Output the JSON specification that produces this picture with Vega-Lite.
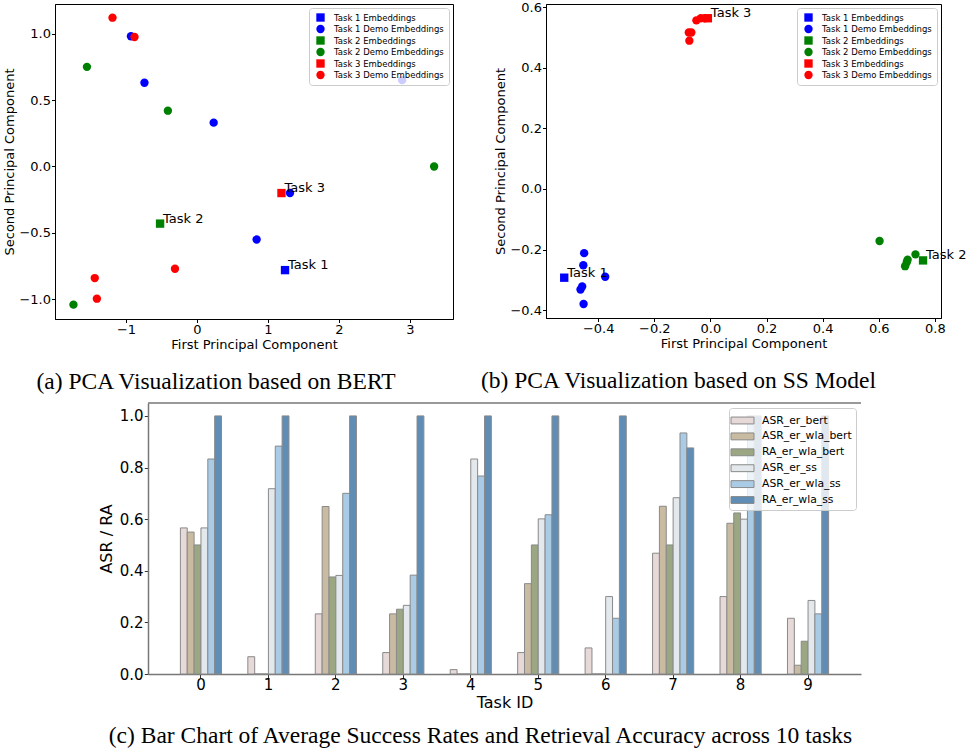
{
  "$schema": "https://vega.github.io/schema/vega-lite/v6.json",
  "padding": {"left": 3, "top": 0, "right": 0, "bottom": 0},
  "spacing": 8,
  "resolve": {"scale": {"color": "independent", "shape": "independent", "x": "independent", "y": "independent"}, "legend": {"color": "independent", "shape": "independent"}},
  "datasets": {
    "pca_bert": [
      {"x": 1.24, "y": -0.78, "series": "Task 1 Embeddings", "label": "Task 1"},
      {"x": -0.93, "y": 0.98, "series": "Task 1 Demo Embeddings"},
      {"x": -0.74, "y": 0.63, "series": "Task 1 Demo Embeddings"},
      {"x": 0.235, "y": 0.33, "series": "Task 1 Demo Embeddings"},
      {"x": 2.89, "y": 0.65, "series": "Task 1 Demo Embeddings"},
      {"x": 1.31, "y": -0.2, "series": "Task 1 Demo Embeddings"},
      {"x": 0.84, "y": -0.55, "series": "Task 1 Demo Embeddings"},
      {"x": -0.52, "y": -0.43, "series": "Task 2 Embeddings", "label": "Task 2"},
      {"x": -1.55, "y": 0.75, "series": "Task 2 Demo Embeddings"},
      {"x": -0.41, "y": 0.42, "series": "Task 2 Demo Embeddings"},
      {"x": 3.34, "y": 0.0, "series": "Task 2 Demo Embeddings"},
      {"x": -1.74, "y": -1.04, "series": "Task 2 Demo Embeddings"},
      {"x": 1.19, "y": -0.2, "series": "Task 3 Embeddings", "label": "Task 3"},
      {"x": -1.19, "y": 1.12, "series": "Task 3 Demo Embeddings"},
      {"x": -0.88, "y": 0.975, "series": "Task 3 Demo Embeddings"},
      {"x": -0.31, "y": -0.77, "series": "Task 3 Demo Embeddings"},
      {"x": -1.44, "y": -0.84, "series": "Task 3 Demo Embeddings"},
      {"x": -1.41, "y": -0.995, "series": "Task 3 Demo Embeddings"}
    ],
    "pca_ss": [
      {"x": -0.521, "y": -0.293, "series": "Task 1 Embeddings", "label": "Task 1"},
      {"x": -0.45, "y": -0.212, "series": "Task 1 Demo Embeddings"},
      {"x": -0.453, "y": -0.252, "series": "Task 1 Demo Embeddings"},
      {"x": -0.375, "y": -0.29, "series": "Task 1 Demo Embeddings"},
      {"x": -0.457, "y": -0.322, "series": "Task 1 Demo Embeddings"},
      {"x": -0.463, "y": -0.332, "series": "Task 1 Demo Embeddings"},
      {"x": -0.452, "y": -0.38, "series": "Task 1 Demo Embeddings"},
      {"x": 0.758, "y": -0.236, "series": "Task 2 Embeddings", "label": "Task 2"},
      {"x": 0.603, "y": -0.172, "series": "Task 2 Demo Embeddings"},
      {"x": 0.731, "y": -0.216, "series": "Task 2 Demo Embeddings"},
      {"x": 0.703, "y": -0.234, "series": "Task 2 Demo Embeddings"},
      {"x": 0.7, "y": -0.242, "series": "Task 2 Demo Embeddings"},
      {"x": 0.694, "y": -0.255, "series": "Task 2 Demo Embeddings"},
      {"x": -0.009, "y": 0.563, "series": "Task 3 Embeddings", "label": "Task 3"},
      {"x": -0.05, "y": 0.556, "series": "Task 3 Demo Embeddings"},
      {"x": -0.034, "y": 0.563, "series": "Task 3 Demo Embeddings"},
      {"x": -0.02, "y": 0.563, "series": "Task 3 Demo Embeddings"},
      {"x": -0.077, "y": 0.516, "series": "Task 3 Demo Embeddings"},
      {"x": -0.068, "y": 0.516, "series": "Task 3 Demo Embeddings"},
      {"x": -0.075, "y": 0.489, "series": "Task 3 Demo Embeddings"}
    ],
    "bars": [
      {"task": 0, "metric": "ASR_er_bert", "value": 0.566},
      {"task": 0, "metric": "ASR_er_wla_bert", "value": 0.55},
      {"task": 0, "metric": "RA_er_wla_bert", "value": 0.5},
      {"task": 0, "metric": "ASR_er_ss", "value": 0.566},
      {"task": 0, "metric": "ASR_er_wla_ss", "value": 0.833},
      {"task": 0, "metric": "RA_er_wla_ss", "value": 1.0},
      {"task": 1, "metric": "ASR_er_bert", "value": 0.067},
      {"task": 1, "metric": "ASR_er_wla_bert", "value": 0},
      {"task": 1, "metric": "RA_er_wla_bert", "value": 0},
      {"task": 1, "metric": "ASR_er_ss", "value": 0.718},
      {"task": 1, "metric": "ASR_er_wla_ss", "value": 0.883},
      {"task": 1, "metric": "RA_er_wla_ss", "value": 1.0},
      {"task": 2, "metric": "ASR_er_bert", "value": 0.233},
      {"task": 2, "metric": "ASR_er_wla_bert", "value": 0.649},
      {"task": 2, "metric": "RA_er_wla_bert", "value": 0.376},
      {"task": 2, "metric": "ASR_er_ss", "value": 0.382},
      {"task": 2, "metric": "ASR_er_wla_ss", "value": 0.7},
      {"task": 2, "metric": "RA_er_wla_ss", "value": 1.0},
      {"task": 3, "metric": "ASR_er_bert", "value": 0.083},
      {"task": 3, "metric": "ASR_er_wla_bert", "value": 0.233},
      {"task": 3, "metric": "RA_er_wla_bert", "value": 0.251},
      {"task": 3, "metric": "ASR_er_ss", "value": 0.266},
      {"task": 3, "metric": "ASR_er_wla_ss", "value": 0.383},
      {"task": 3, "metric": "RA_er_wla_ss", "value": 1.0},
      {"task": 4, "metric": "ASR_er_bert", "value": 0.017},
      {"task": 4, "metric": "ASR_er_wla_bert", "value": 0},
      {"task": 4, "metric": "RA_er_wla_bert", "value": 0},
      {"task": 4, "metric": "ASR_er_ss", "value": 0.833},
      {"task": 4, "metric": "ASR_er_wla_ss", "value": 0.767},
      {"task": 4, "metric": "RA_er_wla_ss", "value": 1.0},
      {"task": 5, "metric": "ASR_er_bert", "value": 0.083},
      {"task": 5, "metric": "ASR_er_wla_bert", "value": 0.35},
      {"task": 5, "metric": "RA_er_wla_bert", "value": 0.5},
      {"task": 5, "metric": "ASR_er_ss", "value": 0.601},
      {"task": 5, "metric": "ASR_er_wla_ss", "value": 0.617},
      {"task": 5, "metric": "RA_er_wla_ss", "value": 1.0},
      {"task": 6, "metric": "ASR_er_bert", "value": 0.101},
      {"task": 6, "metric": "ASR_er_wla_bert", "value": 0},
      {"task": 6, "metric": "RA_er_wla_bert", "value": 0},
      {"task": 6, "metric": "ASR_er_ss", "value": 0.3},
      {"task": 6, "metric": "ASR_er_wla_ss", "value": 0.216},
      {"task": 6, "metric": "RA_er_wla_ss", "value": 1.0},
      {"task": 7, "metric": "ASR_er_bert", "value": 0.468},
      {"task": 7, "metric": "ASR_er_wla_bert", "value": 0.65},
      {"task": 7, "metric": "RA_er_wla_bert", "value": 0.5},
      {"task": 7, "metric": "ASR_er_ss", "value": 0.683},
      {"task": 7, "metric": "ASR_er_wla_ss", "value": 0.934},
      {"task": 7, "metric": "RA_er_wla_ss", "value": 0.876},
      {"task": 8, "metric": "ASR_er_bert", "value": 0.3},
      {"task": 8, "metric": "ASR_er_wla_bert", "value": 0.584},
      {"task": 8, "metric": "RA_er_wla_bert", "value": 0.624},
      {"task": 8, "metric": "ASR_er_ss", "value": 0.6},
      {"task": 8, "metric": "ASR_er_wla_ss", "value": 1.0},
      {"task": 8, "metric": "RA_er_wla_ss", "value": 1.0},
      {"task": 9, "metric": "ASR_er_bert", "value": 0.216},
      {"task": 9, "metric": "ASR_er_wla_bert", "value": 0.034},
      {"task": 9, "metric": "RA_er_wla_bert", "value": 0.127},
      {"task": 9, "metric": "ASR_er_ss", "value": 0.285},
      {"task": 9, "metric": "ASR_er_wla_ss", "value": 0.233},
      {"task": 9, "metric": "RA_er_wla_ss", "value": 1.0}
    ]
  },
  "vconcat": [
    {
      "bounds": "flush",
      "spacing": 93,
      "resolve": {"scale": {"color": "independent", "shape": "independent", "x": "independent", "y": "independent"}, "legend": {"color": "independent", "shape": "independent"}},
      "hconcat": [
        {
          "width": 398,
          "height": 315,
          "title": {"text": "(a) PCA Visualization based on BERT", "orient": "bottom", "anchor": "middle", "dx": -38, "offset": 18, "font": "Liberation Serif", "fontSize": 23.5, "fontWeight": "normal", "color": "black"},
          "data": {"name": "pca_bert"},
          "layer": [
            {
              "mark": {"type": "point", "filled": true, "opacity": 1, "size": 70, "strokeWidth": 0},
              "encoding": {
                "x": {"field": "x", "type": "quantitative", "scale": {"domain": [-2.0, 3.606], "nice": false, "zero": false}, "axis": {"title": "First Principal Component", "values": [-1, 0, 1, 2, 3], "format": "d"}},
                "y": {"field": "y", "type": "quantitative", "scale": {"domain": [-1.148, 1.223], "nice": false, "zero": false}, "axis": {"title": "Second Principal Component", "values": [-1, -0.5, 0, 0.5, 1], "format": ".1f"}},
                "color": {"field": "series", "type": "nominal",
                  "scale": {"domain": ["Task 1 Embeddings", "Task 1 Demo Embeddings", "Task 2 Embeddings", "Task 2 Demo Embeddings", "Task 3 Embeddings", "Task 3 Demo Embeddings"], "range": ["#0000ff", "#0000ff", "#008000", "#008000", "#ff0000", "#ff0000"]},
                  "legend": {"title": null, "orient": "top-right", "offset": 4, "fillColor": "rgba(255,255,255,0.8)", "strokeColor": "#cccccc", "cornerRadius": 3, "padding": 5, "labelFontSize": 8.5, "symbolSize": 70, "symbolStrokeWidth": 0, "rowPadding": 2.5, "labelOffset": 9, "symbolOffset": 2}},
                "shape": {"field": "series", "type": "nominal",
                  "scale": {"domain": ["Task 1 Embeddings", "Task 1 Demo Embeddings", "Task 2 Embeddings", "Task 2 Demo Embeddings", "Task 3 Embeddings", "Task 3 Demo Embeddings"], "range": ["square", "circle", "square", "circle", "square", "circle"]},
                  "legend": {"title": null, "orient": "top-right", "offset": 4, "fillColor": "rgba(255,255,255,0.8)", "strokeColor": "#cccccc", "cornerRadius": 3, "padding": 5, "labelFontSize": 8.5, "symbolSize": 70, "symbolStrokeWidth": 0, "rowPadding": 2.5, "labelOffset": 9, "symbolOffset": 2}}
              }
            },
            {
              "transform": [{"filter": "datum.label"}],
              "mark": {"type": "text", "align": "left", "baseline": "alphabetic", "dx": 3, "dy": -1, "fontSize": 13, "color": "black"},
              "encoding": {
                "x": {"field": "x", "type": "quantitative"},
                "y": {"field": "y", "type": "quantitative"},
                "text": {"field": "label"}
              }
            }
          ]
        },
        {
          "width": 395,
          "height": 314,
          "title": {"text": "(b) PCA Visualization based on SS Model", "orient": "bottom", "anchor": "middle", "dx": -65, "offset": 18, "font": "Liberation Serif", "fontSize": 23.5, "fontWeight": "normal", "color": "black"},
          "data": {"name": "pca_ss"},
          "layer": [
            {
              "mark": {"type": "point", "filled": true, "opacity": 1, "size": 70, "strokeWidth": 0},
              "encoding": {
                "x": {"field": "x", "type": "quantitative", "scale": {"domain": [-0.586, 0.822], "nice": false, "zero": false}, "axis": {"title": "First Principal Component", "values": [-0.4, -0.2, 0, 0.2, 0.4, 0.6, 0.8], "format": ".1f"}},
                "y": {"field": "y", "type": "quantitative", "scale": {"domain": [-0.426, 0.61], "nice": false, "zero": false}, "axis": {"title": "Second Principal Component", "values": [-0.4, -0.2, 0, 0.2, 0.4, 0.6], "format": ".1f"}},
                "color": {"field": "series", "type": "nominal",
                  "scale": {"domain": ["Task 1 Embeddings", "Task 1 Demo Embeddings", "Task 2 Embeddings", "Task 2 Demo Embeddings", "Task 3 Embeddings", "Task 3 Demo Embeddings"], "range": ["#0000ff", "#0000ff", "#008000", "#008000", "#ff0000", "#ff0000"]},
                  "legend": {"title": null, "orient": "top-right", "offset": 4, "fillColor": "rgba(255,255,255,0.8)", "strokeColor": "#cccccc", "cornerRadius": 3, "padding": 5, "labelFontSize": 8.5, "symbolSize": 70, "symbolStrokeWidth": 0, "rowPadding": 2.5, "labelOffset": 9, "symbolOffset": 2}},
                "shape": {"field": "series", "type": "nominal",
                  "scale": {"domain": ["Task 1 Embeddings", "Task 1 Demo Embeddings", "Task 2 Embeddings", "Task 2 Demo Embeddings", "Task 3 Embeddings", "Task 3 Demo Embeddings"], "range": ["square", "circle", "square", "circle", "square", "circle"]},
                  "legend": {"title": null, "orient": "top-right", "offset": 4, "fillColor": "rgba(255,255,255,0.8)", "strokeColor": "#cccccc", "cornerRadius": 3, "padding": 5, "labelFontSize": 8.5, "symbolSize": 70, "symbolStrokeWidth": 0, "rowPadding": 2.5, "labelOffset": 9, "symbolOffset": 2}}
              }
            },
            {
              "transform": [{"filter": "datum.label"}],
              "mark": {"type": "text", "align": "left", "baseline": "alphabetic", "dx": 3, "dy": -1, "fontSize": 13, "color": "black"},
              "encoding": {
                "x": {"field": "x", "type": "quantitative"},
                "y": {"field": "y", "type": "quantitative"},
                "text": {"field": "label"}
              }
            }
          ]
        }
      ]
    },
    {
      "bounds": "flush",
      "spacing": 0,
      "resolve": {"scale": {"color": "independent", "x": "independent", "y": "independent"}, "legend": {"color": "independent"}},
      "hconcat": [
        {
          "width": 93,
          "height": 10,
          "view": {"stroke": null},
          "data": {"values": [{"a": 1}]},
          "mark": {"type": "text", "text": " "},
          "encoding": {}
        },
        {
          "width": 713,
          "height": 271,
          "view": {"stroke": null},
          "title": {"text": "(c) Bar Chart of Average Success Rates and Retrieval Accuracy across 10 tasks", "orient": "bottom", "anchor": "middle", "dx": -24, "offset": 13, "font": "Liberation Serif", "fontSize": 23.5, "fontWeight": "normal", "color": "black"},
          "layer": [
            {
              "data": {"name": "bars"},
              "mark": {"type": "bar", "stroke": "#8a8a8a", "strokeWidth": 1},
              "encoding": {
                "x": {"field": "task", "type": "ordinal", "scale": {"paddingInner": 0.39, "paddingOuter": 0.48},
                  "axis": {"title": "Task ID", "labelAngle": 0, "labelFontSize": 15, "titleFontSize": 16, "tickSize": 3.7, "labelPadding": 0, "titlePadding": 2, "domainColor": "#777777", "domainWidth": 1.5, "tickColor": "#333333"}},
                "xOffset": {"field": "metric", "type": "nominal", "scale": {"domain": ["ASR_er_bert", "ASR_er_wla_bert", "RA_er_wla_bert", "ASR_er_ss", "ASR_er_wla_ss", "RA_er_wla_ss"], "paddingInner": 0, "paddingOuter": 0}},
                "y": {"field": "value", "type": "quantitative", "scale": {"domain": [0, 1.05], "nice": false},
                  "axis": {"title": "ASR / RA", "values": [0, 0.2, 0.4, 0.6, 0.8, 1.0], "format": ".1f", "labelFontSize": 15, "titleFontSize": 16, "tickSize": 3.7, "labelPadding": 1.3, "titlePadding": 5, "domainColor": "#777777", "domainWidth": 1.5, "tickColor": "#333333"}},
                "color": {"field": "metric", "type": "nominal",
                  "scale": {"domain": ["ASR_er_bert", "ASR_er_wla_bert", "RA_er_wla_bert", "ASR_er_ss", "ASR_er_wla_ss", "RA_er_wla_ss"], "range": ["#e6d9d7", "#c9baa2", "#9aa782", "#e3e8ec", "#a9cbe5", "#5f8db5"]},
                  "legend": {"title": null, "orient": "top-right", "offset": 5, "fillColor": "rgba(255,255,255,0.8)", "strokeColor": "#cccccc", "cornerRadius": 3, "padding": 4, "labelFontSize": 10.8, "symbolType": "M-1.5,-0.45H1.5V0.45H-1.5Z", "symbolSize": 235, "symbolStrokeColor": "#8a8a8a", "symbolStrokeWidth": 1, "rowPadding": 1.9, "labelOffset": 11, "symbolOffset": 1}}
              }
            },
            {
              "data": {"values": [{"a": 1}]},
              "mark": {"type": "rule", "color": "#777777", "strokeWidth": 1.5},
              "encoding": {"y": {"datum": 1.05}}
            }
          ]
        }
      ]
    }
  ],
  "config": {
    "font": "DejaVu Sans",
    "view": {"stroke": "black", "strokeWidth": 1},
    "axis": {"grid": false, "domainColor": "black", "tickColor": "black", "labelColor": "black", "titleColor": "black", "labelFontSize": 13, "titleFontSize": 13, "titleFontWeight": "normal", "tickSize": 3.5, "labelPadding": 1, "titlePadding": 2, "domainWidth": 1}
  }
}
